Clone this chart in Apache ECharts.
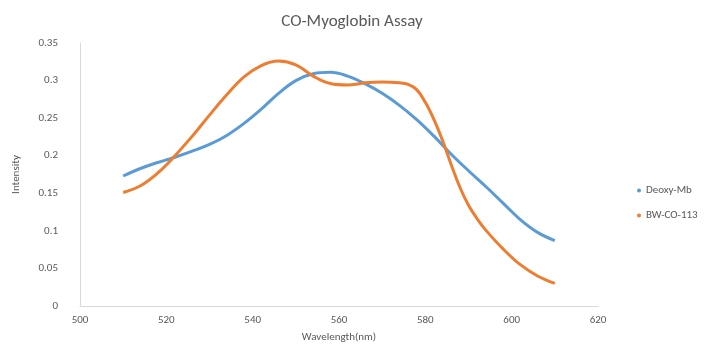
<!DOCTYPE html>
<html>
<head>
<meta charset="utf-8">
<script src="https://cdn.jsdelivr.net/npm/echarts@6/dist/echarts.min.js"></script>
<style>
  html, body { margin: 0; padding: 0; background: #fff; }
  #chart { width: 704px; height: 353px; }
</style>
</head>
<body>
<div id="chart"></div>
<script>
// wavelengths (nm) and intensities
var deoxyX = [510, 514, 518, 522, 526, 530, 534, 538, 542, 546, 550, 554, 558, 562, 566, 570, 574, 578, 582, 586, 590, 594, 598, 602, 606, 610];
var deoxyY = [0.173, 0.183, 0.191, 0.198, 0.206, 0.215, 0.227, 0.243, 0.262, 0.283, 0.300, 0.309, 0.311, 0.306, 0.296, 0.283, 0.267, 0.248, 0.226, 0.202, 0.180, 0.159, 0.137, 0.115, 0.098, 0.087];

var bwX = [510, 514, 518, 522, 526, 530, 534, 538, 542, 546, 550, 554, 558, 562, 566, 570, 574, 576, 578, 580, 582, 584, 586, 588, 590, 592, 594, 598, 602, 606, 610];
var bwY = [0.151, 0.160, 0.177, 0.200, 0.226, 0.254, 0.281, 0.305, 0.320, 0.326, 0.321, 0.306, 0.296, 0.294, 0.297, 0.298, 0.297, 0.295, 0.288, 0.271, 0.248, 0.220, 0.188, 0.158, 0.134, 0.116, 0.101, 0.076, 0.055, 0.040, 0.030];

var seriesNames = ['Deoxy-Mb', 'BW-CO-113'];

function pairs(xs, ys) {
  var out = [];
  for (var i = 0; i < xs.length; i++) out.push([xs[i], ys[i]]);
  return out;
}

var chart = echarts.init(document.getElementById('chart'));
var txt = '#595959';
var font = 'Calibri, Carlito, "Open Sans", sans-serif';

chart.setOption({
  animation: false,
  textStyle: { fontFamily: font },
  color: ['#5B9BD5', '#ED7D31'],
  title: {
    text: 'CO-Myoglobin Assay',
    left: 'center',
    top: 8,
    textStyle: { fontSize: 17, fontWeight: 'normal', color: txt, fontFamily: font }
  },
  legend: {
    data: seriesNames,
    orient: 'vertical',
    left: 632,
    top: 180,
    icon: 'circle',
    itemWidth: 4,
    itemHeight: 4,
    itemGap: 14,
    textStyle: { fontSize: 11, color: txt, fontFamily: font }
  },
  grid: { left: 80, right: 106, top: 43, bottom: 47 },
  xAxis: {
    type: 'value',
    min: 500,
    max: 620,
    interval: 20,
    name: 'Wavelength(nm)',
    nameLocation: 'middle',
    nameGap: 26,
    nameTextStyle: { fontSize: 11, color: txt },
    axisLine: { lineStyle: { color: '#d9d9d9' } },
    axisTick: { show: false },
    axisLabel: { fontSize: 11, color: txt, margin: 9 },
    splitLine: { show: false }
  },
  yAxis: {
    type: 'value',
    min: 0,
    max: 0.35,
    interval: 0.05,
    name: 'Intensity',
    nameLocation: 'middle',
    nameGap: 58,
    nameTextStyle: { fontSize: 11, color: txt },
    axisLine: { show: true, lineStyle: { color: '#d9d9d9' } },
    axisTick: { show: false },
    axisLabel: { fontSize: 11, color: txt, margin: 22 },
    splitLine: { show: false }
  },
  series: [
    {
      name: seriesNames[0],
      type: 'line',
      smooth: 0.4,
      showSymbol: false,
      lineStyle: { width: 3 },
      data: pairs(deoxyX, deoxyY)
    },
    {
      name: seriesNames[1],
      type: 'line',
      smooth: 0.4,
      showSymbol: false,
      lineStyle: { width: 3 },
      data: pairs(bwX, bwY)
    }
  ]
});
</script>
</body>
</html>
